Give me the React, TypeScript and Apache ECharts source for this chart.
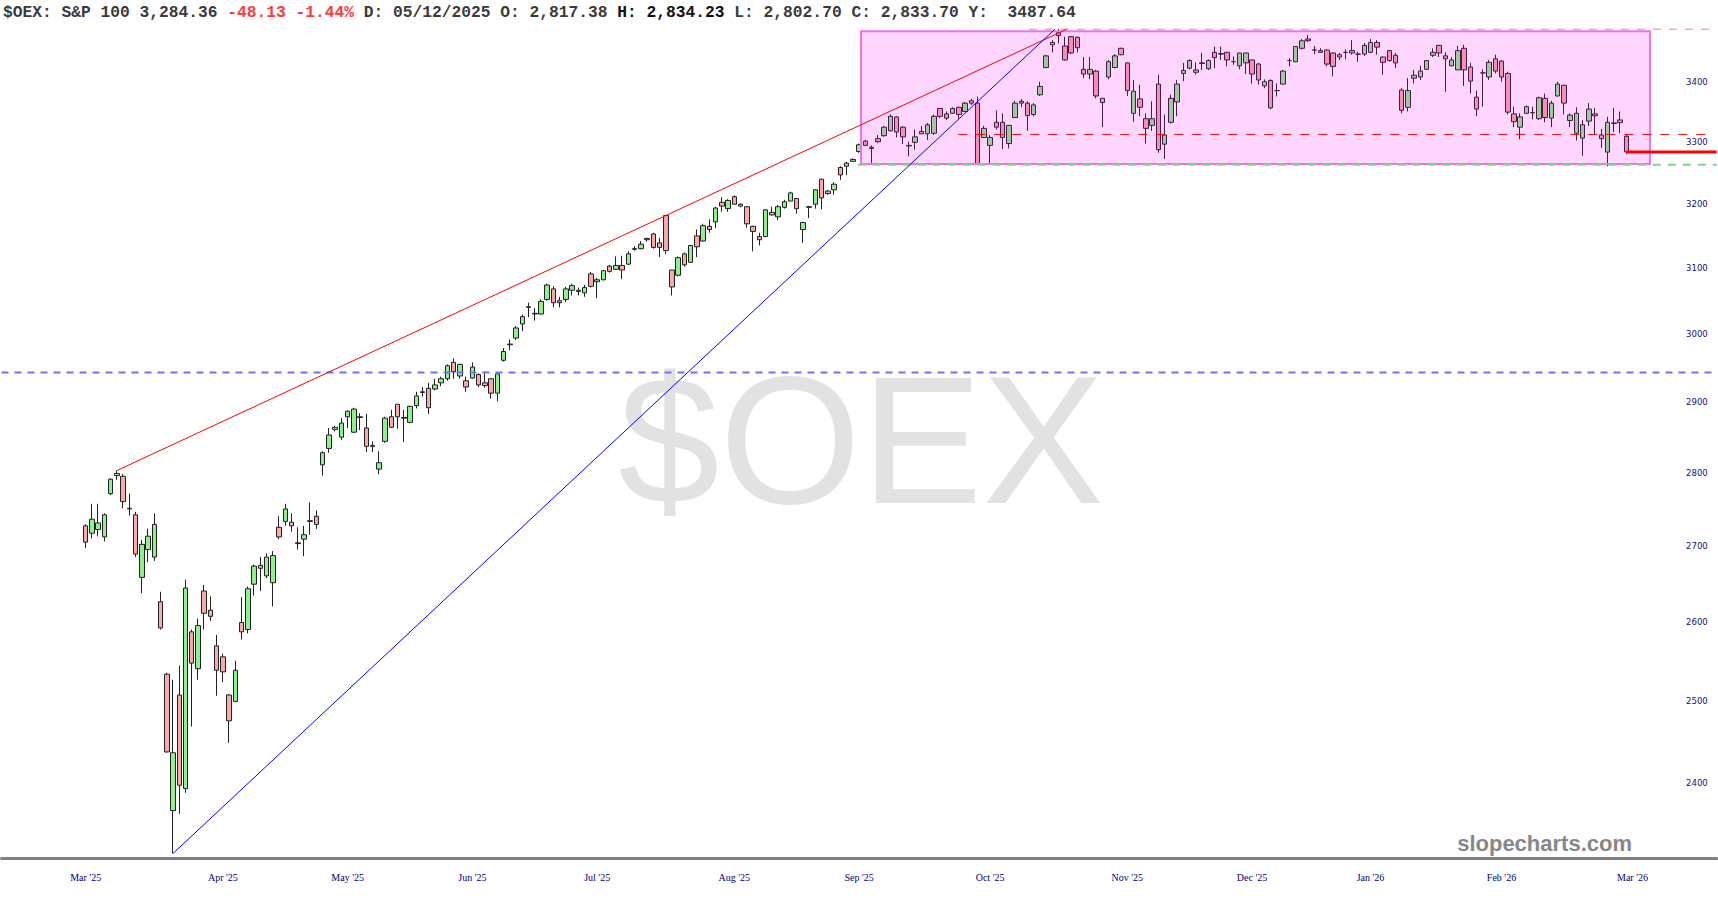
import React, { useEffect, useRef } from "react";
import * as echarts from "echarts";

// ---- DATA -------------------------------------------------------------
// Daily candles [open, high, low, close], one row per trading day starting 18 Mar 2025
const candlesA: number[][] = [
  [2727, 2729, 2697, 2705], [2717, 2757, 2710, 2736], [2722, 2757, 2713, 2731], [2712, 2744, 2706, 2742],
  [2771, 2792, 2769, 2791], [2796, 2803, 2790, 2799], [2795, 2798, 2751, 2760], [2751, 2771, 2741, 2750],
  [2742, 2746, 2685, 2689], [2658, 2708, 2637, 2702], [2695, 2723, 2678, 2713], [2685, 2744, 2680, 2729],
  [2626, 2639, 2590, 2592], [2533, 2535, 2436, 2437], [2367, 2526, 2317, 2436], [2507, 2544, 2363, 2397],
  [2393, 2655, 2388, 2644], [2587, 2590, 2468, 2547], [2540, 2604, 2526, 2595], [2640, 2648, 2590, 2611],
  [2615, 2633, 2601, 2607], [2569, 2583, 2506, 2538], [2555, 2559, 2523, 2536], [2507, 2508, 2448, 2475],
  [2499, 2550, 2498, 2538], [2599, 2632, 2577, 2587], [2590, 2646, 2585, 2643], [2649, 2675, 2634, 2673],
  [2674, 2685, 2640, 2670], [2660, 2690, 2657, 2685], [2651, 2693, 2620, 2687], [2725, 2740, 2709, 2712],
  [2733, 2757, 2727, 2750], [2732, 2744, 2719, 2727], [2704, 2725, 2695, 2703], [2709, 2727, 2686, 2715],
  [2733, 2759, 2715, 2734], [2740, 2748, 2723, 2729],
];
const candlesB: number[][] = [
  [2811, 2830, 2796, 2828], [2834, 2863, 2828, 2853], [2861, 2866, 2858, 2864], [2850, 2877, 2846, 2870],
  [2879, 2888, 2863, 2887], [2857, 2892, 2856, 2890], [2879, 2884, 2860, 2878], [2863, 2883, 2829, 2837],
  [2837, 2844, 2829, 2838], [2805, 2830, 2798, 2814], [2844, 2879, 2842, 2877], [2879, 2889, 2863, 2864],
  [2897, 2897, 2862, 2879], [2878, 2889, 2843, 2877], [2871, 2895, 2870, 2894], [2895, 2915, 2891, 2909],
  [2915, 2922, 2908, 2914], [2920, 2928, 2883, 2892], [2919, 2934, 2917, 2925], [2928, 2937, 2923, 2934],
  [2934, 2955, 2931, 2953], [2958, 2964, 2934, 2944], [2938, 2956, 2934, 2955], [2931, 2937, 2915, 2922],
  [2935, 2958, 2934, 2951], [2940, 2942, 2922, 2925], [2928, 2945, 2921, 2924], [2934, 2935, 2905, 2913],
  [2913, 2942, 2901, 2941], [2961, 2979, 2959, 2974], [2985, 2992, 2976, 2984], [2994, 3012, 2991, 3009],
  [3015, 3029, 3004, 3026], [3041, 3047, 3025, 3040], [3031, 3039, 3020, 3030], [3030, 3052, 3029, 3049],
];
const candlesC: number[][] = [
  [3052, 3076, 3050, 3074], [3068, 3072, 3040, 3047], [3050, 3056, 3040, 3047], [3052, 3071, 3048, 3068],
  [3066, 3076, 3058, 3073], [3064, 3070, 3058, 3066], [3062, 3074, 3056, 3070], [3091, 3094, 3070, 3072],
  [3079, 3085, 3054, 3082], [3082, 3097, 3081, 3096], [3103, 3105, 3093, 3095], [3098, 3118, 3097, 3104],
  [3104, 3119, 3083, 3097], [3106, 3126, 3105, 3122], [3129, 3134, 3127, 3130], [3130, 3142, 3129, 3137],
  [3144, 3147, 3141, 3146], [3153, 3155, 3130, 3132], [3139, 3147, 3117, 3132], [3182, 3183, 3122, 3127],
  [3097, 3097, 3058, 3071], [3089, 3118, 3087, 3116], [3122, 3124, 3102, 3105], [3109, 3136, 3108, 3135],
  [3150, 3160, 3117, 3133], [3142, 3169, 3141, 3166], [3165, 3176, 3155, 3160], [3172, 3196, 3162, 3194],
  [3203, 3211, 3188, 3197], [3193, 3208, 3188, 3206], [3212, 3214, 3199, 3200], [3200, 3201, 3195, 3197],
  [3196, 3197, 3163, 3169], [3165, 3166, 3126, 3157], [3149, 3155, 3135, 3144], [3149, 3192, 3148, 3191],
  [3187, 3196, 3182, 3183], [3180, 3199, 3175, 3196], [3195, 3207, 3193, 3204], [3205, 3220, 3205, 3218],
  [3209, 3210, 3185, 3193], [3160, 3172, 3139, 3171], [3195, 3197, 3178, 3196], [3200, 3224, 3193, 3223],
  [3240, 3241, 3192, 3210], [3221, 3223, 3215, 3217], [3223, 3235, 3215, 3232], [3259, 3261, 3239, 3247],
  [3261, 3268, 3247, 3266], [3269, 3274, 3268, 3272],
];
const candlesD: number[][] = [
  [3285, 3298, 3283, 3296], [3302, 3304, 3294, 3295], [3292, 3295, 3265, 3290], [3306, 3312, 3299, 3301],
  [3311, 3327, 3309, 3325], [3319, 3346, 3318, 3343], [3342, 3343, 3308, 3317], [3325, 3327, 3297, 3309],
  [3295, 3301, 3277, 3294], [3300, 3321, 3288, 3309], [3318, 3327, 3314, 3314], [3314, 3332, 3304, 3329],
  [3315, 3346, 3312, 3343], [3356, 3357, 3340, 3343], [3347, 3351, 3337, 3340], [3348, 3358, 3347, 3356],
  [3358, 3359, 3339, 3346], [3351, 3367, 3350, 3365], [3369, 3372, 3362, 3365], [3365, 3376, 3263, 3265],
  [3308, 3327, 3307, 3323], [3295, 3312, 3265, 3308], [3333, 3353, 3321, 3325], [3333, 3348, 3289, 3308],
  [3298, 3328, 3290, 3328], [3341, 3369, 3340, 3365], [3365, 3372, 3358, 3368], [3365, 3368, 3319, 3344],
  [3346, 3365, 3343, 3362], [3379, 3401, 3377, 3393], [3425, 3447, 3424, 3445], [3464, 3472, 3451, 3468],
  [3485, 3491, 3466, 3480], [3462, 3478, 3437, 3438], [3478, 3479, 3448, 3450], [3477, 3478, 3451, 3459],
  [3422, 3443, 3407, 3414], [3414, 3443, 3405, 3422], [3419, 3421, 3373, 3377], [3366, 3373, 3325, 3373],
  [3409, 3438, 3405, 3435], [3425, 3448, 3424, 3445],
];
const candlesE: number[][] = [
  [3458, 3459, 3446, 3447], [3433, 3434, 3377, 3386], [3348, 3404, 3334, 3385], [3372, 3396, 3343, 3358],
  [3339, 3348, 3298, 3323], [3328, 3368, 3319, 3339], [3397, 3413, 3283, 3288], [3297, 3346, 3273, 3312],
  [3333, 3379, 3331, 3373], [3367, 3404, 3343, 3397], [3415, 3433, 3402, 3420], [3424, 3439, 3422, 3437],
  [3417, 3434, 3413, 3421], [3432, 3450, 3421, 3433], [3423, 3439, 3421, 3437], [3451, 3461, 3424, 3442],
  [3449, 3461, 3438, 3448], [3451, 3452, 3427, 3438], [3435, 3444, 3430, 3435], [3428, 3450, 3422, 3450],
  [3433, 3450, 3414, 3450], [3438, 3438, 3398, 3414], [3431, 3433, 3396, 3404], [3394, 3405, 3390, 3401],
  [3403, 3405, 3355, 3357], [3386, 3398, 3376, 3386], [3397, 3421, 3396, 3419], [3437, 3441, 3427, 3437],
  [3435, 3462, 3434, 3461], [3458, 3474, 3456, 3471], [3474, 3481, 3469, 3471], [3455, 3462, 3448, 3455],
  [3454, 3458, 3450, 3451], [3455, 3456, 3427, 3431], [3450, 3451, 3410, 3427], [3447, 3450, 3438, 3443],
  [3451, 3456, 3439, 3451], [3454, 3472, 3447, 3450], [3448, 3452, 3435, 3448], [3448, 3467, 3445, 3463],
  [3451, 3474, 3450, 3468], [3468, 3472, 3447, 3460], [3443, 3444, 3413, 3434], [3454, 3455, 3435, 3437],
  [3446, 3450, 3424, 3433],
];
const candlesF: number[][] = [
  [3387, 3390, 3348, 3353], [3358, 3407, 3351, 3386], [3407, 3421, 3398, 3412], [3409, 3428, 3404, 3419],
  [3422, 3438, 3421, 3437], [3446, 3458, 3443, 3451], [3463, 3464, 3443, 3450], [3445, 3451, 3384, 3440],
  [3428, 3443, 3427, 3438], [3421, 3462, 3421, 3454], [3458, 3464, 3394, 3421], [3426, 3433, 3381, 3402],
  [3375, 3386, 3343, 3355], [3416, 3422, 3359, 3416], [3409, 3438, 3404, 3434], [3440, 3447, 3415, 3419],
  [3436, 3438, 3401, 3409], [3415, 3418, 3346, 3350], [3347, 3359, 3325, 3334], [3325, 3348, 3305, 3342],
  [3348, 3361, 3347, 3359], [3349, 3359, 3338, 3349], [3339, 3376, 3337, 3374], [3373, 3381, 3333, 3341],
  [3340, 3369, 3325, 3365], [3377, 3401, 3376, 3397], [3395, 3396, 3346, 3365], [3336, 3348, 3325, 3345],
  [3315, 3358, 3303, 3348], [3307, 3337, 3278, 3329], [3335, 3365, 3327, 3355], [3347, 3357, 3313, 3344],
  [3312, 3322, 3291, 3306], [3284, 3342, 3261, 3333], [3332, 3357, 3317, 3331], [3337, 3351, 3315, 3332.49],
  [3310, 3312, 3281, 3284.36],
];

const FIRST_DAY = "2025-03-18";
const HOLIDAYS = [
  "2025-04-18", "2025-05-26", "2025-06-19", "2025-07-04", "2025-09-01",
  "2025-11-27", "2025-12-25", "2026-01-01", "2026-01-19", "2026-02-16",
];

// x-axis tick labels and the trading-day index each one sits on
const monthLabels = ["Mar '25", "Apr '25", "May '25", "Jun '25", "Jul '25", "Aug '25", "Sep '25", "Oct '25", "Nov '25", "Dec '25", "Jan '26", "Feb '26", "Mar '26"];
const monthLabelDay = [0, 22, 42, 62, 82, 104, 124, 145, 167, 187, 206, 227, 248];

// y-axis tick labels
const priceTicks = [2400, 2500, 2600, 2700, 2800, 2900, 3000, 3100, 3200, 3300, 3400];

// annotation levels (price) and day spans
const rangeTop = 3487.64;
const rangeBottom = 3264.5;
const rangeFromDay = 124.3;
const rangeToDay = 250.8;
const topLevel = 3491;
const midLevel = 3313;
const supportLevel = 3263.5;
const blueLevel = 2943;
const lastClose = 3284.36;
const redTrend = [[5, 2803], [157.3, 3491]];
const blueTrend = [[14, 2317], [155.4, 3491]];

const header = {
  name: "$OEX: S&P 100 3,284.36 ",
  change: "-48.13 -1.44%",
  mid: " D: 05/12/2025 O: 2,817.38 ",
  high: "H: 2,834.23",
  tail: " L: 2,802.70 C: 2,833.70 Y:  3487.64",
};

// ---- LAYOUT -----------------------------------------------------------
const PAD = 13;
const SLOTS = 275;
const X_MIN = -PAD - 0.5;
const X_MAX = SLOTS - PAD - 0.5;

function tradingDays(start: string, n: number): string[] {
  const out: string[] = [];
  const d = new Date(start + "T00:00:00Z");
  while (out.length < n) {
    const dow = d.getUTCDay();
    const iso = d.toISOString().slice(0, 10);
    if (dow !== 0 && dow !== 6 && HOLIDAYS.indexOf(iso) < 0) out.push(iso);
    d.setUTCDate(d.getUTCDate() + 1);
  }
  return out;
}

const nb = (s: string) => s.replace(/ /g, "\u00a0");

export default function App() {
  const ref = useRef<HTMLDivElement>(null);

  useEffect(() => {
    if (!ref.current) return;
    const chart = echarts.init(ref.current, undefined, { renderer: "svg" });

    const ohlc = [...candlesA, ...candlesB, ...candlesC, ...candlesD, ...candlesE, ...candlesF];
    const days = tradingDays(FIRST_DAY, ohlc.length);
    const categories: string[] = [];
    for (let k = 0; k < SLOTS; k++) {
      const i = k - PAD;
      categories.push(i >= 0 && i < days.length ? days[i] : "slot" + k);
    }
    const labelAt: Record<number, string> = {};
    monthLabelDay.forEach((d, j) => (labelAt[d + PAD] = monthLabels[j]));

    const candleData = ohlc.map((c, i) => [i + PAD, c[0], c[3], c[2], c[1]]);

    const lineSeries = (data: number[][], style: any, z: number) => ({
      type: "line",
      xAxisIndex: 1,
      yAxisIndex: 0,
      data,
      symbol: "none",
      silent: true,
      clip: false,
      z,
      lineStyle: style,
    });

    const mono = "'Liberation Mono', 'DejaVu Sans Mono', monospace";

    const option: any = {
      animation: false,
      backgroundColor: "#ffffff",
      title: {
        left: 3,
        top: 4,
        padding: 0,
        text:
          "{n|" + nb(header.name) + "}{r|" + nb(header.change) + "}{n|" + nb(header.mid) +
          "}{b|" + nb(header.high) + "}{n|" + nb(header.tail) + "}",
        textStyle: {
          rich: {
            n: { fontFamily: mono, fontSize: 16.25, color: "#3a3a3a", lineHeight: 16 },
            r: { fontFamily: mono, fontSize: 16.25, color: "#ff3a3a", lineHeight: 16 },
            b: { fontFamily: mono, fontSize: 16.25, color: "#111", fontWeight: "bold", lineHeight: 16 },
          },
        },
      },
      grid: { left: 1.5, right: 1.3, top: 20, bottom: 41.5 },
      xAxis: [
        {
          type: "category",
          data: categories,
          boundaryGap: true,
          axisLine: { show: true, lineStyle: { color: "#808080", width: 3 } },
          axisTick: { show: false },
          splitLine: { show: false },
          axisLabel: {
            interval: (idx: number) => labelAt[idx] !== undefined,
            formatter: (_v: string, idx: number) => labelAt[idx] || "",
            color: "#00007a",
            fontFamily: "'Liberation Serif', 'DejaVu Serif', serif",
            fontSize: 10,
            margin: 14,
          },
        },
        { type: "value", min: X_MIN, max: X_MAX, show: false },
      ],
      yAxis: [
        {
          type: "log",
          logBase: 10,
          position: "right",
          min: 2311.2,
          max: 3507.0,
          axisLine: { show: false },
          axisTick: { show: false },
          splitLine: { show: false },
          axisLabel: {
            inside: true,
            margin: 9,
            customValues: priceTicks,
            formatter: (v: number) => String(Math.round(v)),
            color: "#10107a",
            fontFamily: "'DejaVu Sans', Verdana, sans-serif",
            fontSize: 8.5,
          },
        },
      ],
      graphic: [
        {
          type: "text",
          x: 861,
          y: 440,
          z: 0,
          silent: true,
          style: {
            text: "$OEX",
            fill: "#e2e2e2",
            font: "182px 'Liberation Sans', Arial, sans-serif",
            textAlign: "center",
            textVerticalAlign: "middle",
          },
        },
        {
          type: "text",
          x: 1632,
          y: 843,
          z: 0,
          silent: true,
          style: {
            text: "slopecharts.com",
            fill: "#878787",
            font: "bold 22px 'Liberation Sans', Arial, sans-serif",
            textAlign: "right",
            textVerticalAlign: "middle",
          },
        },
      ],
      series: [
        {
          type: "candlestick",
          xAxisIndex: 0,
          yAxisIndex: 0,
          data: candleData,
          encode: { x: 0, y: [1, 2, 3, 4] },
          barWidth: 5,
          z: 2,
          itemStyle: {
            color: "#8ff08f",
            color0: "#f9a9a9",
            borderColor: "#222222",
            borderColor0: "#222222",
            borderWidth: 1,
          },
        },
        {
          type: "line",
          xAxisIndex: 1,
          yAxisIndex: 0,
          data: [],
          silent: true,
          z: 5,
          markArea: {
            silent: true,
            z: 5,
            itemStyle: {
              color: "rgba(255, 0, 255, 0.16)",
              borderColor: "#f070f0",
              borderWidth: 2,
            },
            data: [[{ coord: [rangeFromDay, rangeTop] }, { coord: [rangeToDay, rangeBottom] }]],
          },
        },
        lineSeries([[151.2, topLevel], [X_MAX, topLevel]], { color: "#f08a8a", width: 1, type: [8, 8] }, 6),
        lineSeries([[139.9, midLevel], [260.1, midLevel]], { color: "#ff0000", width: 1, type: [9, 9] }, 6),
        lineSeries([[123.8, supportLevel], [X_MAX, supportLevel]], { color: "#7ed87e", width: 2, type: [8, 7] }, 6),
        lineSeries([[X_MIN, blueLevel], [X_MAX, blueLevel]], { color: "#7070ff", width: 2, type: [7, 6] }, 6),
        lineSeries([[ohlc.length - 1, lastClose], [X_MAX, lastClose]], { color: "#ff0000", width: 3, type: "solid" }, 7),
        lineSeries(redTrend, { color: "#ff0000", width: 1, type: "solid" }, 7),
        lineSeries(blueTrend, { color: "#0000ff", width: 1, type: "solid" }, 7),
      ],
    };

    chart.setOption(option);
    return () => chart.dispose();
  }, []);

  return (
    <div
      ref={ref}
      style={{ position: "fixed", left: 0, top: 0, width: "1718px", height: "900px", background: "#fff" }}
    />
  );
}
